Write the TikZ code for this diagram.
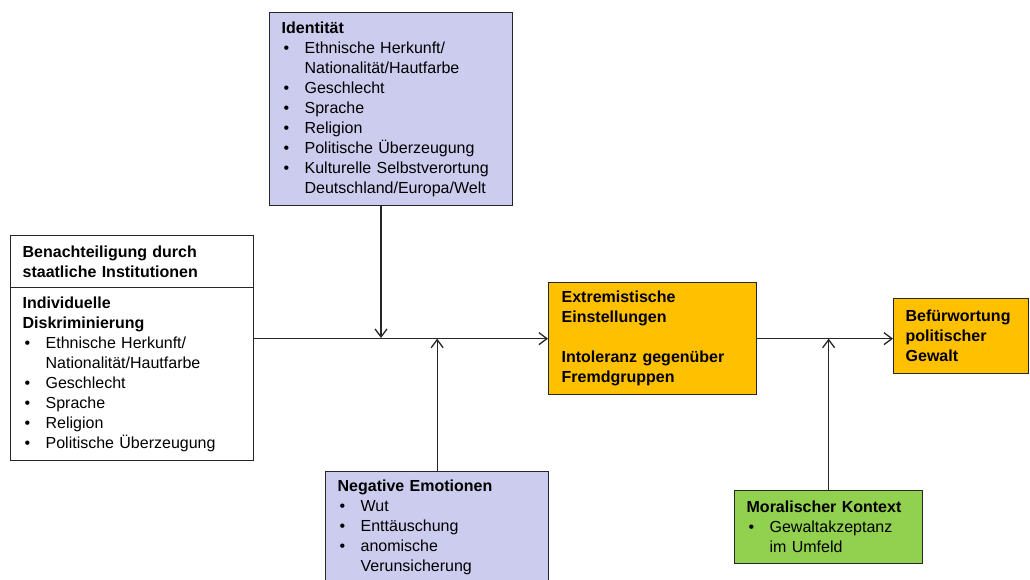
\documentclass[tikz,border=0pt]{standalone}
\usepackage{fontspec}
\setmainfont{Liberation Sans}
\usetikzlibrary{arrows.meta}

\definecolor{lila}{HTML}{CCCCEE}
\definecolor{orange}{HTML}{FFC000}
\definecolor{gruen}{HTML}{92D050}

% bullet item and continued line
\newcommand{\bul}{\hspace*{2pt}\makebox[21pt][l]{•}}
\newcommand{\cont}{\hspace*{23pt}}

\begin{document}
\begin{tikzpicture}[x=1pt, y=-1pt, font=\fontsize{16}{20}\selectfont,
    box/.style={draw=black!85, line width=1.3pt, inner xsep=12pt, inner ysep=0pt,
                align=left, anchor=north west},
    lilabox/.style={box, fill=lila},
    orangebox/.style={box, fill=orange, font=\fontsize{16}{20}\selectfont\bfseries},
    gruenbox/.style={box, fill=gruen},
    weissbox/.style={box, fill=white},
    arr/.style={-{Straight Barb[length=8pt,width=12pt]}, line width=1.3pt, draw=black!85}]
\clip (0,0) rectangle (1030,580);

\node[lilabox, text width=219pt, minimum height=193pt] (ident) at (269,12)
  {\textbf{Identität}\\
   \bul Ethnische Herkunft/\\ \cont Nationalität/Hautfarbe\\
   \bul Geschlecht\\ \bul Sprache\\ \bul Religion\\
   \bul Politische Überzeugung\\
   \bul Kulturelle Selbstverortung\\ \cont Deutschland/Europa/Welt};

\node[weissbox, text width=219pt, minimum height=52pt] (benach) at (10,235)
  {\textbf{Benachteiligung durch}\\ \textbf{staatliche Institutionen}};
\node[weissbox, text width=219pt, minimum height=173pt] (indiv) at (10,287)
  {\textbf{Individuelle}\\ \textbf{Diskriminierung}\\
   \bul Ethnische Herkunft/\\ \cont Nationalität/Hautfarbe\\
   \bul Geschlecht\\ \bul Sprache\\ \bul Religion\\
   \bul Politische Überzeugung};

\node[orangebox, text width=182pt, minimum height=112pt, inner xsep=13pt] (extrem) at (548,282)
  {Extremistische\\ Einstellungen\\[20pt] Intoleranz gegenüber\\ Fremdgruppen};
\node[orangebox, text width=111pt, minimum height=75pt] (befuer) at (893,298)
  {Befürwortung\\ politischer\\ Gewalt};

\node[lilabox, text width=199pt, minimum height=111pt] (negemo) at (325,471)
  {\textbf{Negative Emotionen}\\
   \bul Wut\\ \bul Enttäuschung\\ \bul anomische\\ \cont Verunsicherung};

\node[gruenbox, text width=164pt, minimum height=73pt] (moral) at (734,490)
  {\textbf{Moralischer Kontext}\\
   \bul Gewaltakzeptanz\\ \cont im Umfeld};

\coordinate (idin) at (381,338);
\coordinate (emoin) at (negemo.north |- extrem.west);

\draw[arr] (indiv.east |- extrem.west) -- (extrem.west);
\draw[arr] (ident.south -| idin) -- (idin);
\draw[arr] (negemo.north) -- (emoin);
\draw[arr] (extrem.east) -- (extrem.east -| befuer.west);
\draw[arr] (moral.north) -- (moral.north |- extrem.east);
\end{tikzpicture}
\end{document}
